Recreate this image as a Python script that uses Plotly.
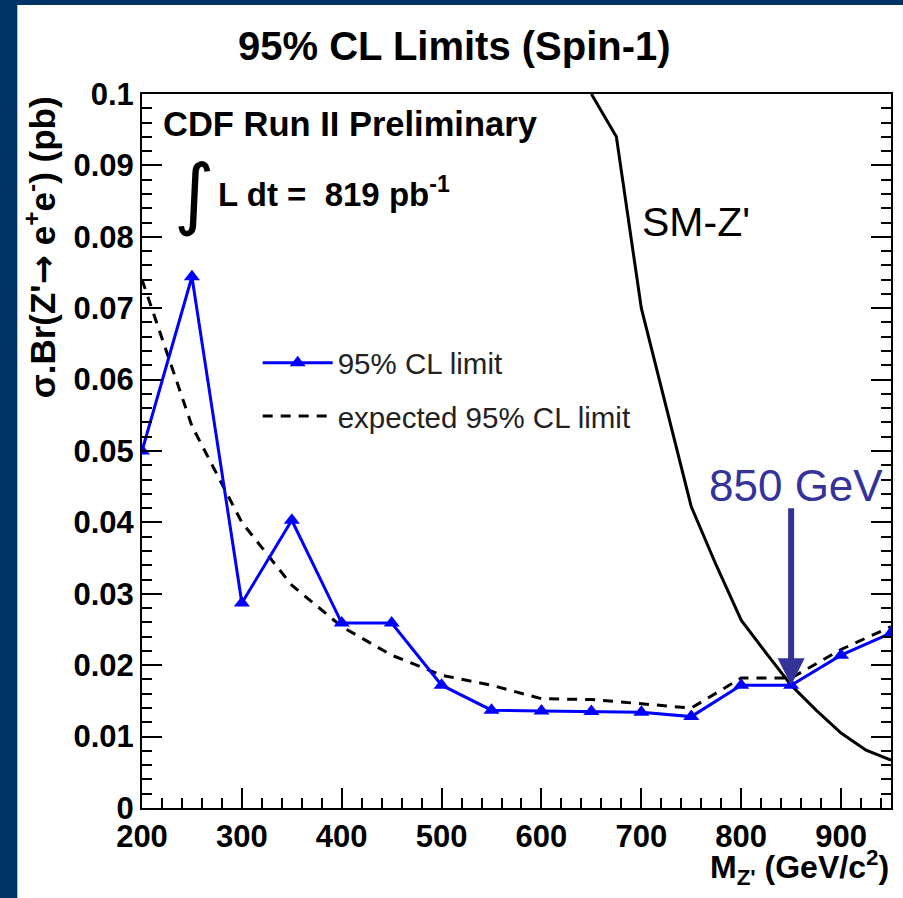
import plotly.graph_objects as go

# ---- data ----
mass = [200, 250, 300, 350, 400, 450, 500, 550, 600, 650, 700, 750, 800, 850, 900, 950]
obs_limit = [0.0500, 0.0744, 0.0287, 0.0403, 0.0259, 0.0259, 0.0172, 0.0137, 0.0136,
             0.0135, 0.0134, 0.0128, 0.0172, 0.0172, 0.0214, 0.0245]
exp_limit = [0.0740, 0.0535, 0.0400, 0.0312, 0.0254, 0.0214, 0.0186, 0.0172, 0.0153,
             0.0152, 0.0146, 0.0140, 0.0182, 0.0182, 0.0222, 0.0254]
sm_mass = [650, 675, 700, 725, 750, 775, 800, 825, 850, 875, 900, 925, 950]
sm_xsec = [0.1000, 0.0940, 0.0700, 0.0560, 0.0422, 0.0340, 0.0263, 0.0217, 0.0172,
           0.0137, 0.0105, 0.0081, 0.0067]
limit_mass = 850
limit_xsec = 0.0172
arrow_top = 0.0422

x_ticks = [200, 300, 400, 500, 600, 700, 800, 900]
y_ticks = [0, 0.01, 0.02, 0.03, 0.04, 0.05, 0.06, 0.07, 0.08, 0.09, 0.1]

W, H = 903, 898
ML, MR, MT, MB = 142, 10, 94, 90
PW, PH = W - ML - MR, H - MT - MB


def px(xp):
    return (xp - ML) / PW


def py(yp):
    return (H - MB - yp) / PH


FONT = "Liberation Sans, Arial, Helvetica, sans-serif"
NAVY = "#003366"
ARROWC = "#333399"

fig = go.Figure()
fig.add_trace(go.Scatter(x=sm_mass, y=sm_xsec, mode="lines",
                         line=dict(color="black", width=3), showlegend=False))
fig.add_trace(go.Scatter(x=mass, y=exp_limit, mode="lines", name="expected 95% CL limit",
                         line=dict(color="black", width=3, dash="10px,8px"),
                         legendgroup="b", legendrank=2))
fig.add_trace(go.Scatter(x=mass, y=obs_limit, mode="lines+markers", name="95% CL limit",
                         line=dict(color="#0000ff", width=3),
                         marker=dict(symbol="triangle-up", size=14, color="#0000ff"),
                         legendgroup="a", legendrank=1))

axis_common = dict(showgrid=False, zeroline=False, showline=True, linecolor="black",
                   linewidth=2, ticks="inside", tickcolor="black", tickwidth=2,
                   ticklen=20,
                   tickfont=dict(family=FONT, size=31, color="black", weight="bold"))

fig.update_xaxes(range=[200, 950], tickvals=x_ticks, mirror=True,
                 minor=dict(dtick=20, tick0=200, ticks="inside", ticklen=10,
                            tickwidth=2, tickcolor="black"),
                 **axis_common)
fig.update_yaxes(range=[0, 0.1], tickvals=y_ticks, mirror="ticks",
                 minor=dict(dtick=0.002, tick0=0, ticks="inside", ticklen=10,
                            tickwidth=2, tickcolor="black"),
                 **axis_common)

ann = []
ann.append(dict(text="<b>95% CL Limits (Spin-1)</b>", x=px(455), y=py(46),
                xref="paper", yref="paper", showarrow=False, xanchor="center",
                yanchor="middle", font=dict(family=FONT, size=40, color="black")))
ann.append(dict(text="<b>CDF Run II Preliminary</b>", x=px(161), y=py(124),
                xref="paper", yref="paper", showarrow=False, xanchor="left",
                yanchor="middle", font=dict(family=FONT, size=34.5, color="black")))
ann.append(dict(text="∫", x=px(195), y=py(193),
                xref="paper", yref="paper", showarrow=False, xanchor="center",
                yanchor="middle", font=dict(family="DejaVu Sans", size=78, color="black")))
ann.append(dict(text="<b>L dt =  819 pb<sup>-1</sup></b>", x=px(216), y=py(192),
                xref="paper", yref="paper", showarrow=False, xanchor="left",
                yanchor="middle", font=dict(family=FONT, size=33, color="black")))
ann.append(dict(text="SM-Z'", x=755, y=0.0821, xref="x", yref="y", showarrow=False,
                xanchor="center", yanchor="middle",
                font=dict(family=FONT, size=41, color="black")))
ann.append(dict(text="850 GeV", x=px(798), y=py(485), xref="paper", yref="paper",
                showarrow=False, xanchor="center", yanchor="middle",
                font=dict(family=FONT, size=44, color=ARROWC)))
ann.append(dict(text="", x=limit_mass, y=limit_xsec, ax=limit_mass, ay=arrow_top,
                xref="x", yref="y", axref="x", ayref="y", showarrow=True,
                arrowhead=2, arrowsize=0.9, arrowwidth=6, arrowcolor=ARROWC,
                standoff=0))
ann.append(dict(text="<b>M<sub>Z'</sub> (GeV/c<sup>2</sup>)</b>", x=px(893), y=py(867),
                xref="paper", yref="paper", showarrow=False, xanchor="right",
                yanchor="middle", font=dict(family=FONT, size=32, color="black")))
ann.append(dict(text="<b>σ.Br(Z'<span style=\"font-family:DejaVu Sans\">→</span> "
                     "e<sup>+</sup>e<sup>-</sup>) (pb)</b>",
                x=px(40), y=py(94),
                xref="paper", yref="paper", showarrow=False, xanchor="center",
                yanchor="top", textangle=-90,
                font=dict(family=FONT, size=35, color="black")))

fig.update_layout(
    width=W, height=H,
    margin=dict(l=ML, r=MR, t=MT, b=MB),
    paper_bgcolor=NAVY, plot_bgcolor="white",
    annotations=ann,
    showlegend=True,
    legend=dict(x=px(258), y=py(337), xanchor="left", yanchor="top",
                bgcolor="rgba(0,0,0,0)", borderwidth=0, itemwidth=70,
                tracegroupgap=12,
                font=dict(family=FONT, size=29.5, color="#222222")),
    shapes=[dict(type="rect", xref="paper", yref="paper", layer="below",
                 x0=px(17), x1=px(W + 2), y0=py(H + 2), y1=py(5),
                 fillcolor="white", line=dict(width=0))],
)

fig.write_html("out.html")
